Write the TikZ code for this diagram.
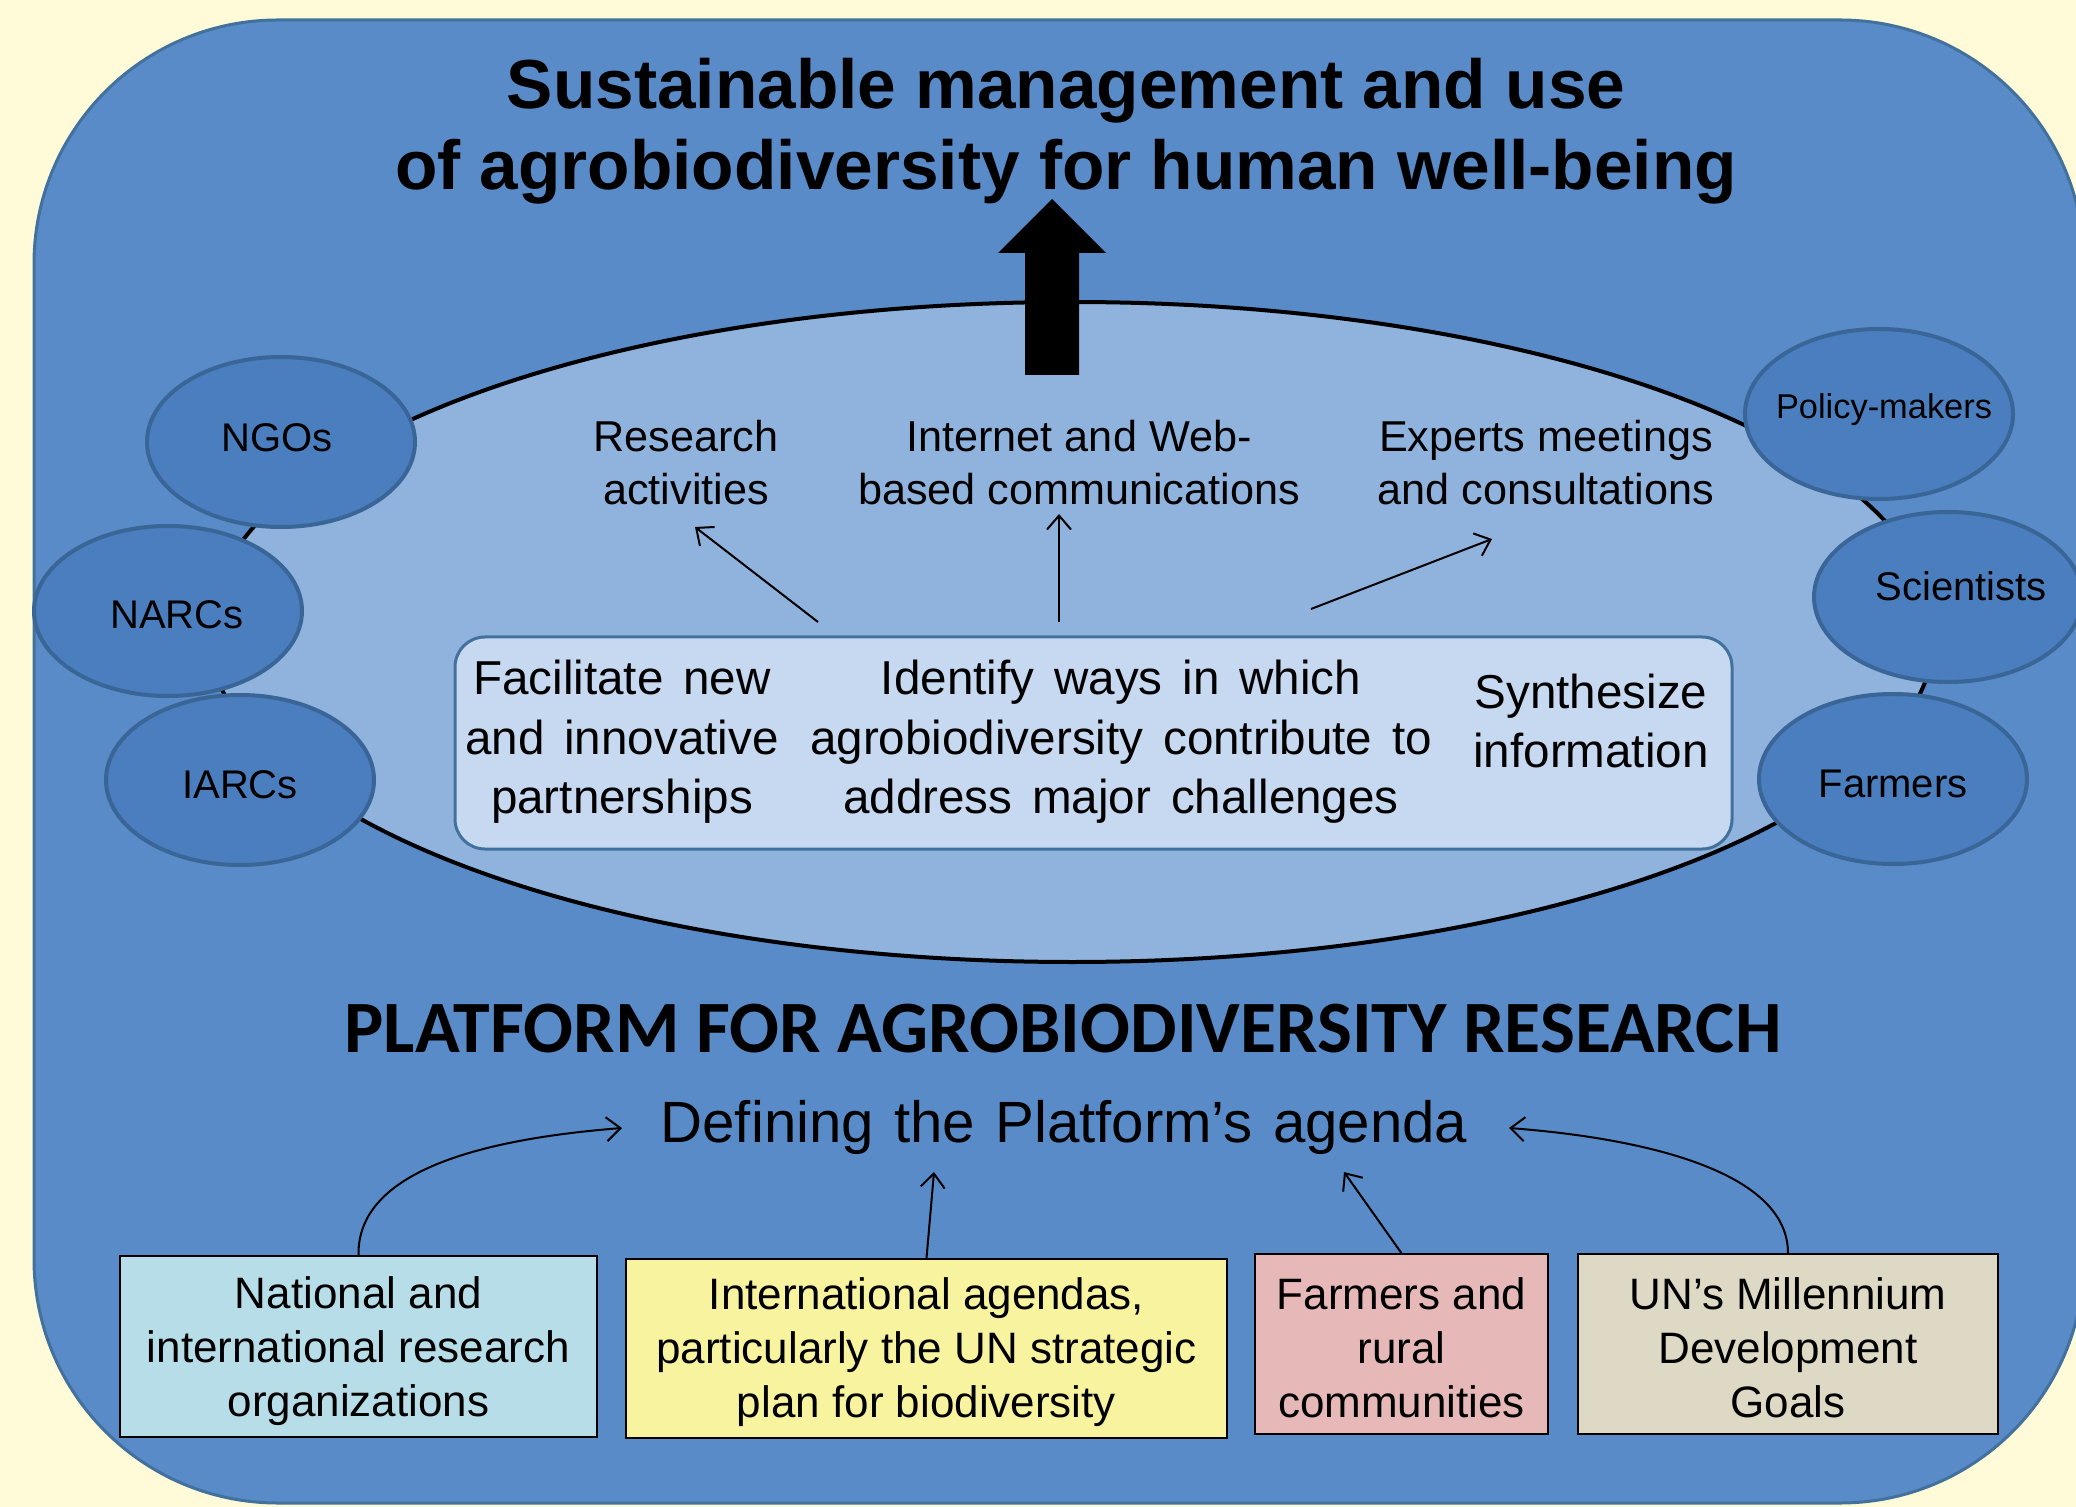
\documentclass[tikz,border=0pt]{standalone}
\usepackage{fontspec}
\setmainfont{Liberation Sans}
\newfontfamily\carlito{Carlito}
\usetikzlibrary{shapes.geometric,arrows.meta}
\definecolor{cream}{HTML}{FFFBD8}
\definecolor{outerblue}{HTML}{588BC7}
\definecolor{outerline}{HTML}{41719C}
\definecolor{ringfill}{HTML}{8FB3DD}
\definecolor{actorfill}{HTML}{4A7EBE}
\definecolor{actorline}{HTML}{3A6597}
\definecolor{boxfill}{HTML}{C6D9F1}
\definecolor{natfill}{HTML}{B7DEE8}
\definecolor{intfill}{HTML}{F8F39E}
\definecolor{farmfill}{HTML}{E6B9B8}
\definecolor{unfill}{HTML}{DDD9C4}
\newcommand{\widesp}[1]{\spaceskip=#1\fontdimen2\font\relax}
\begin{document}
\begin{tikzpicture}[x=0.5pt,y=-0.5pt,
  actor/.style={ellipse, draw=actorline, line width=2pt, fill=actorfill,
    minimum width=134pt, minimum height=85pt, inner sep=0pt},
  actortxt/.style={inner sep=0pt, font=\fontsize{20}{24}\selectfont},
  lbl/.style={align=center, inner sep=0pt, font=\fontsize{21.6}{26.5}\selectfont},
  boxtxt/.style={align=center, inner sep=0pt,
    font=\fontsize{23.8}{29.8}\selectfont\widesp{1.5}},
  srcbox/.style={draw=black, line width=0.8pt, inner sep=0pt},
  srctxt/.style={align=center, inner sep=0pt, font=\fontsize{22}{27}\selectfont},
  flow/.style={line width=1pt, -{Straight Barb[length=7pt,width=12pt]}},
]
\useasboundingbox (0,0) rectangle (2076,1507);
\clip (0,0) rectangle (2076,1507);
\fill[cream] (0,0) rectangle (2076,1507);
\draw[outerline, line width=1.5pt, fill=outerblue, rounded corners=122pt] (34,20) rectangle (2084,1503);

% ring
\draw[black, line width=2pt, fill=ringfill] (1072,632) ellipse [x radius=431.5pt, y radius=165pt];

% actors
\node[actor] (ngo) at (281,442) {};
\node[actor] (narc) at (168,611) {};
\node[actor] (iarc) at (240,780) {};
\node[actor] (policy) at (1879,414) {};
\node[actor] (sci) at (1948,597) {};
\node[actor] (farm) at (1893,779) {};
\node[actortxt] (ngot) at (277,438) {NGOs};
\node[actortxt] (narct) at (177,615) {NARCs};
\node[actortxt] (iarct) at (240,785) {IARCs};
\node[actortxt, font=\fontsize{17.2}{20}\selectfont] (policyt) at (1884,410) {Policy-makers};
\node[actortxt] (scit) at (1961,586) {Scientists};
\node[actortxt] (farmt) at (1893,784) {Farmers};

% core box
\node[draw=outerline, line width=1.5pt, fill=boxfill, rounded corners=15pt,
  minimum width=638.5pt, minimum height=106pt, inner sep=0pt] (core) at (1093.5,743) {};
\node[boxtxt] (facil) at (622,742) {Facilitate new\\and innovative\\partnerships};
\node[boxtxt] (ident) at (1121,742) {Identify ways in which\\agrobiodiversity contribute to\\address major challenges};
\node[boxtxt] (synth) at (1591,721) {Synthesize\\information};

% activity labels
\node[lbl] (research) at (686,463) {Research\\activities};
\node[lbl] (internet) at (1079,463) {Internet and Web-\\based communications};
\node[lbl] (experts) at (1546,463) {Experts meetings\\and consultations};

\coordinate (s1) at (818,622); \coordinate (e1) at (695,527);
\coordinate (s2) at (1059,622); \coordinate (e2) at (1059,514);
\coordinate (s3) at (1311,609); \coordinate (e3) at (1492,539);
\draw[flow] (s1) -- (e1);
\draw[flow] (s2) -- (e2);
\draw[flow] (s3) -- (e3);

% big arrow
\fill[black] (1025,375) -- (1025,253) -- (998,253) -- (1052,199) -- (1106,253) -- (1079,253) -- (1079,375) -- cycle;

% title
\node[align=center, inner sep=0pt, font=\fontsize{34.7}{40.6}\bfseries\selectfont] (title) at (1066,131)
  {Sustainable management and use\\of agrobiodiversity for human well-being};

% platform
\node[inner sep=0pt, font=\carlito\bfseries\fontsize{36.9}{44}\selectfont] (platform) at (1063,1029)
  {PLATFORM FOR AGROBIODIVERSITY RESEARCH};
\node[inner sep=0pt, font=\fontsize{29.1}{35}\selectfont\widesp{1.25}] (agenda) at (1064,1127)
  {Defining the Platform’s agenda};

% source boxes
\node[srcbox, fill=natfill, minimum width=238.5pt, minimum height=90.5pt] (nat) at (358.5,1346.5) {};
\node[srcbox, fill=intfill, minimum width=300.5pt, minimum height=89.5pt] (intl) at (926.5,1348.5) {};
\node[srcbox, fill=farmfill, minimum width=146.5pt, minimum height=90pt] (rural) at (1401.5,1344) {};
\node[srcbox, fill=unfill, minimum width=210pt, minimum height=90pt] (mdg) at (1788,1344) {};
\node[srctxt] (natt) at (358.5,1351.5) {National and\\international research\\organizations};
\node[srctxt] (intlt) at (926.5,1352.5) {International agendas,\\particularly the UN strategic\\plan for biodiversity};
\node[srctxt] (ruralt) at (1401.5,1348) {Farmers and\\rural\\communities};
\node[srctxt] (mdgt) at (1788,1348) {UN’s Millennium\\Development\\Goals};

\coordinate (natend) at (622,1128);
\coordinate (intend) at (934,1172);
\coordinate (ruralend) at (1344,1172);
\coordinate (mdgend) at (1509,1128);
\draw[flow] (nat.north) .. controls (357,1175) and (470,1140) .. (natend);
\draw[flow] (intl.north) -- (intend);
\draw[flow] (rural.north) -- (ruralend);
\draw[flow] (mdg.north) .. controls (1788,1170) and (1640,1138) .. (mdgend);
\end{tikzpicture}
\end{document}
